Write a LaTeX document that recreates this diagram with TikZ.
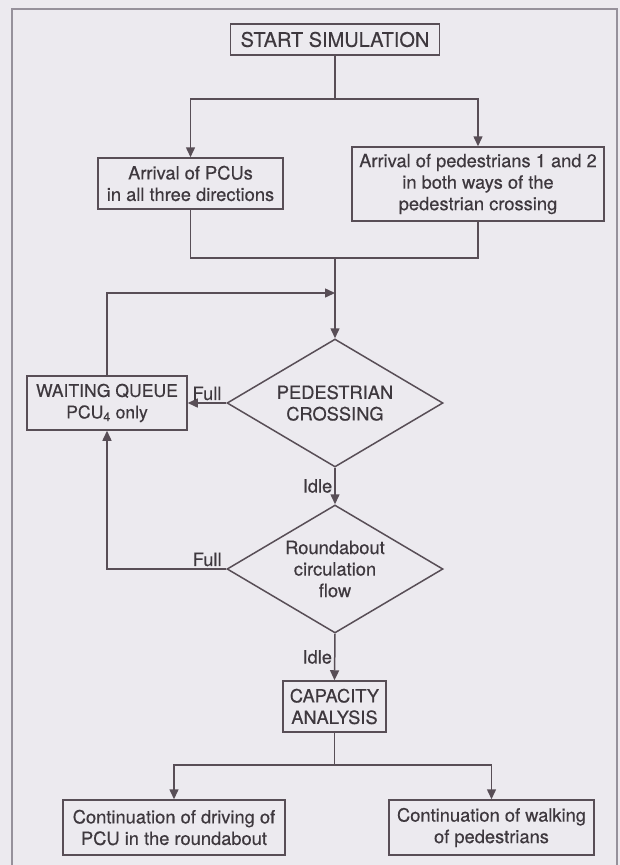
\documentclass[tikz,border=0pt]{standalone}
\usepackage{fontspec}
\setmainfont{TeX Gyre Heros}[FakeBold=0.4]
\usetikzlibrary{arrows.meta,shapes.geometric}
\definecolor{paper}{RGB}{236,234,239}
\definecolor{ink}{RGB}{88,78,86}
\definecolor{rim}{RGB}{150,145,155}
\definecolor{txt}{RGB}{62,56,62}

\begin{document}
\begin{tikzpicture}[x=1pt,y=-1pt,>={Triangle[length=10pt,width=9pt]},
    box/.style={draw=ink,line width=1.5pt,text=txt,font=\fontsize{18.3}{21.5}\selectfont,align=center,inner sep=0pt},
    decide/.style={diamond,draw=ink,line width=1.5pt,text=txt,font=\fontsize{18.3}{21.5}\selectfont,align=center,inner sep=0pt,aspect=1.69,minimum width=216pt,minimum height=128pt},
    flow/.style={draw=ink,line width=1.5pt},
    tag/.style={text=txt,font=\fontsize{18.3}{21.5}\selectfont,inner sep=2pt}]
    % page
    \fill[paper] (0,0) rectangle (620,865);
    \useasboundingbox (0,0) rectangle (620,865);
    \draw[rim,line width=1.2pt] (12,870) -- (12,9) -- (617,9) -- (617,870);

    % boxes
    \node[box,minimum width=209pt,minimum height=31pt,font=\fontsize{20}{24}\selectfont] (start) at (335,39.5) {START SIMULATION};
    \node[box,minimum width=185pt,minimum height=51pt] (pcu) at (190.5,183.5) {Arrival of PCUs\\in all three directions};
    \node[box,minimum width=252pt,minimum height=74pt] (ped) at (478,184) {Arrival of pedestrians 1 and 2\\in both ways of the\\pedestrian crossing};
    \node[box,minimum width=160pt,minimum height=54pt,font=\fontsize{17.6}{21.5}\selectfont] (queue) at (107,403) {WAITING QUEUE\\PCU\textsubscript{4} only};
    \node[decide] (cross) at (335,403) {PEDESTRIAN\\CROSSING};
    \node[decide] (circ) at (335,569) {Roundabout\\circulation\\flow};
    \node[box,minimum width=103pt,minimum height=51pt] (cap) at (334.5,706.5) {CAPACITY\\ANALYSIS};
    \node[box,minimum width=222pt,minimum height=55pt] (drive) at (174,827.5) {Continuation of driving of\\PCU in the roundabout};
    \node[box,minimum width=205pt,minimum height=55pt] (walk) at (491.5,827.5) {Continuation of walking\\of pedestrians};

    % arrivals
    \coordinate (fork) at (335,99);
    \draw[flow] (start.south) -- (fork);
    \draw[flow,->] (fork) -| (pcu.north);
    \draw[flow,->] (fork) -| (ped.north);
    \coordinate (join) at (335,258);
    \draw[flow] (pcu.south) |- (join);
    \draw[flow] (ped.south) |- (join);
    \draw[flow,->] (join) -- (cross.north);

    % queue loop
    \coordinate (back) at (335,293);
    \draw[flow,->] (queue.north) |- (back);
    \draw[flow,->] (cross.west) -- (queue.east) node[tag,midway,above] {Full};
    \draw[flow,->] (cross.south) -- (circ.north) node[tag,midway,left] {Idle};
    \draw[flow,->] (circ.west) -| (queue.south) node[tag,pos=0.08,above] {Full};
    \draw[flow,->] (circ.south) -- (cap.north) node[tag,midway,left] {Idle};

    % end
    \coordinate (fork2) at (334.5,765);
    \draw[flow] (cap.south) -- (fork2);
    \draw[flow,->] (fork2) -| (drive.north);
    \draw[flow,->] (fork2) -| (walk.north);
\end{tikzpicture}
\end{document}
